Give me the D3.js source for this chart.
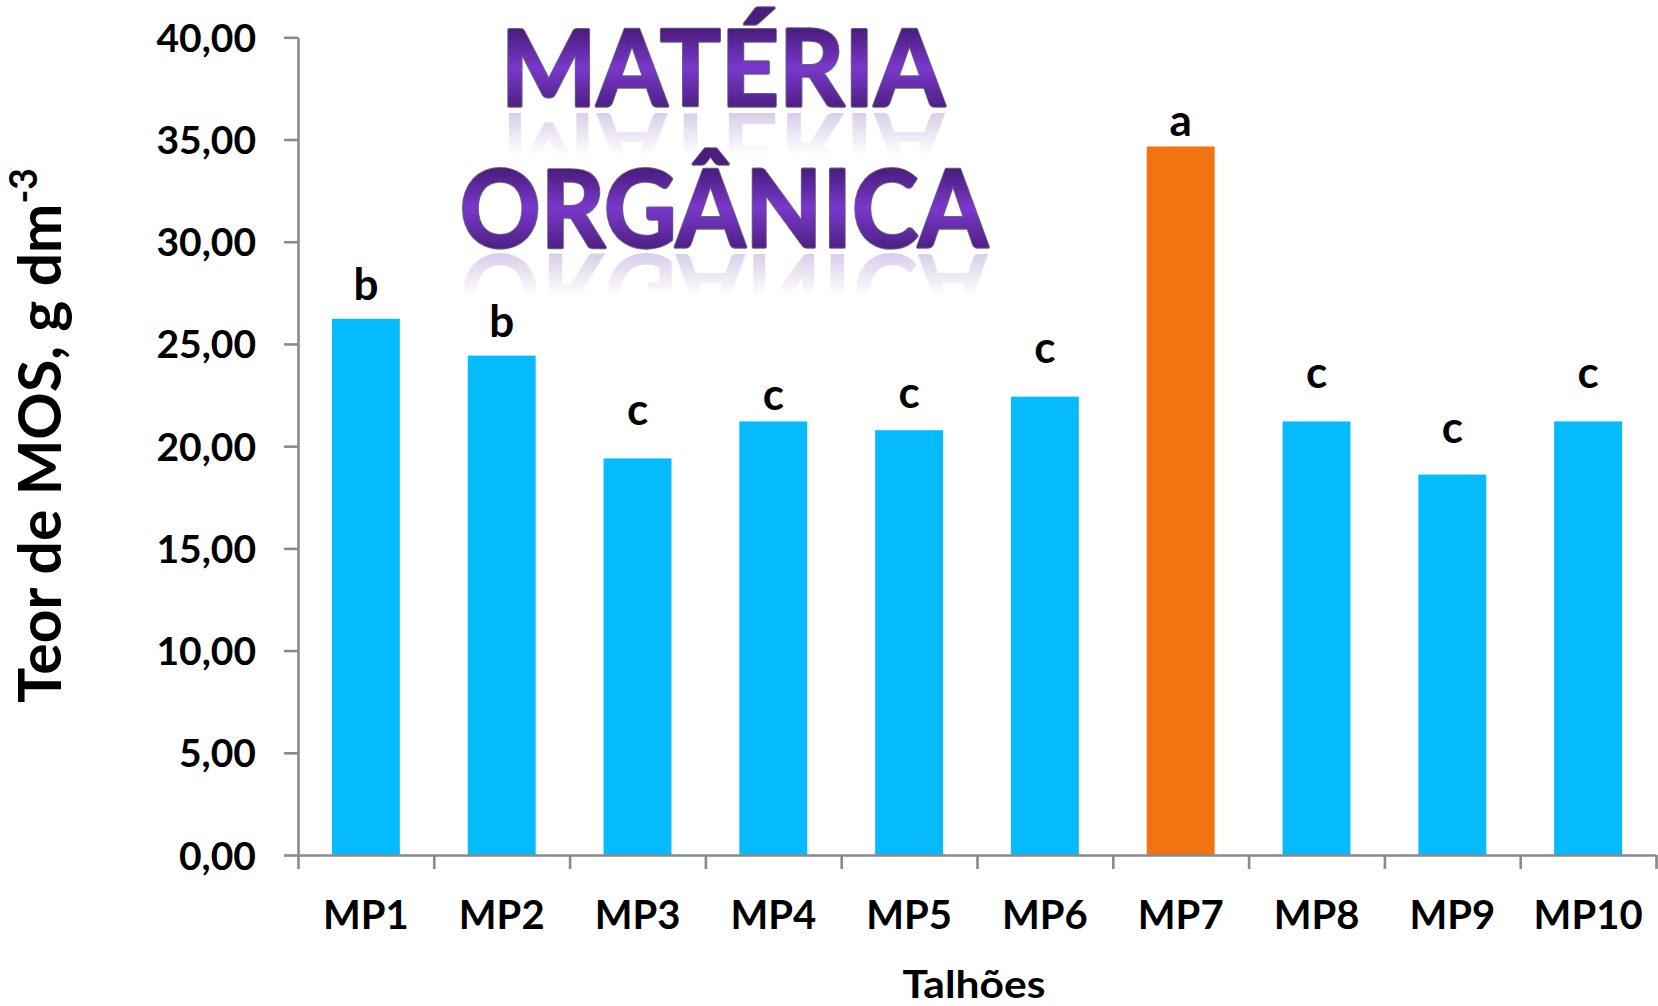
<!DOCTYPE html>
<html>
<head>
<meta charset="utf-8">
<script src="https://cdn.jsdelivr.net/npm/d3@7"></script>
<style>
  html, body { margin: 0; padding: 0; background: #ffffff; }
  svg { display: block; }
  text { font-family: Lato, "Open Sans", "DejaVu Sans", sans-serif; font-weight: 700; }
</style>
</head>
<body>
<svg id="chart" width="1658" height="1006"></svg>
<script>
// Organic matter content per plot (Teor de MOS, g dm-3)
const categories = ["MP1", "MP2", "MP3", "MP4", "MP5", "MP6", "MP7", "MP8", "MP9", "MP10"];
const values = [26.23, 24.43, 19.40, 21.21, 20.78, 22.42, 34.66, 21.21, 18.61, 21.21];
// Mean-comparison letters above each bar
const letters = ["b", "b", "c", "c", "c", "c", "a", "c", "c", "c"];
const yTicks = [0, 5, 10, 15, 20, 25, 30, 35, 40];
const highlighted = ["MP7"];
const titleLines = ["MATÉRIA", "ORGÂNICA"];
const xTitle = "Talhões";
const yTitle = "Teor de MOS, g dm";
const yTitleSup = "-3";

// ---- layout (pixels) ----
const plot = { left: 298, right: 1656, top: 37.3, bottom: 855 };
const letterLift = [19, 19, 33, 11, 22, 34, 10, 33, 32, 33];
const colors = { bar: "#05BBFD", accent: "#F07510", axis: "#8a8a8a", text: "#000000" };

const svg = d3.select("#chart");

const x = d3.scaleBand()
  .domain(categories)
  .range([plot.left, plot.right])
  .paddingInner(0.5)
  .paddingOuter(0.25);

const y = d3.scaleLinear()
  .domain([0, 40])
  .range([plot.bottom, plot.top]);

// boundary scale for the category separators on the x axis
const edges = d3.scaleLinear().domain([0, categories.length]).range([plot.left, plot.right]);

const comma = d3.formatLocale({ decimal: ",", thousands: ".", grouping: [3], currency: ["R$", ""] });
const fmt = comma.format(".2f");

// ---- title with reflection ----
const defs = svg.append("defs");
const titleSpec = [
  { text: titleLines[0], cx: 722.8, base: 106, cap: 76, width: 444 },
  { text: titleLines[1], cx: 723.8, base: 246.7, cap: 77, width: 528 }
];
titleSpec.forEach((t, i) => {
  const g = defs.append("linearGradient").attr("id", "tg" + i)
    .attr("gradientUnits", "userSpaceOnUse")
    .attr("x1", 0).attr("x2", 0).attr("y1", t.base - t.cap).attr("y2", t.base);
  g.append("stop").attr("offset", "0%").attr("stop-color", "#4a1d7e");
  g.append("stop").attr("offset", "50%").attr("stop-color", "#7a38cc");
  g.append("stop").attr("offset", "100%").attr("stop-color", "#4f2186");

  const mg = defs.append("linearGradient").attr("id", "mg" + i)
    .attr("gradientUnits", "userSpaceOnUse")
    .attr("x1", 0).attr("x2", 0).attr("y1", t.base + 5).attr("y2", t.base + 50);
  mg.append("stop").attr("offset", "0%").attr("stop-color", "#fff").attr("stop-opacity", 0.26);
  mg.append("stop").attr("offset", "100%").attr("stop-color", "#fff").attr("stop-opacity", 0);
  defs.append("mask").attr("id", "mk" + i)
    .attr("maskUnits", "userSpaceOnUse")
    .attr("x", 0).attr("y", 0).attr("width", 1658).attr("height", 1006)
    .append("rect").attr("x", 0).attr("y", t.base).attr("width", 1658).attr("height", 50)
    .attr("fill", "url(#mg" + i + ")");
});

const titleG = svg.append("g").attr("class", "title");
titleSpec.forEach((t, i) => {
  const fontSize = t.cap / 0.72;
  const word = sel => sel
    .attr("x", t.cx).attr("y", t.base)
    .attr("text-anchor", "middle")
    .attr("font-size", fontSize)
    .attr("font-weight", 900)
    .attr("textLength", t.width).attr("lengthAdjust", "spacingAndGlyphs")
    .text(t.text);
  // mirrored copy fading downward
  titleG.append("g").attr("mask", "url(#mk" + i + ")")
    .append("text")
    .attr("transform", `translate(0,${2 * (t.base + 3.5)}) scale(1,-1)`)
    .call(word)
    .attr("fill", "#6a3aa8");
  // thin grey outline, then gradient body with a matching stroke to thicken it
  titleG.append("text").call(word)
    .attr("fill", "none")
    .attr("stroke", "#6e6a78").attr("stroke-width", 3.4).attr("stroke-linejoin", "round");
  titleG.append("text").call(word)
    .attr("fill", "url(#tg" + i + ")")
    .attr("stroke", "url(#tg" + i + ")").attr("stroke-width", 1.6).attr("stroke-linejoin", "round");
});

// ---- bars ----
svg.append("g").selectAll("rect")
  .data(categories)
  .join("rect")
  .attr("x", d => x(d))
  .attr("width", x.bandwidth())
  .attr("y", (d, i) => y(values[i]))
  .attr("height", (d, i) => y(0) - y(values[i]))
  .attr("fill", d => highlighted.includes(d) ? colors.accent : colors.bar);

// ---- letters above bars ----
svg.append("g").selectAll("text")
  .data(categories)
  .join("text")
  .attr("x", d => x(d) + x.bandwidth() / 2)
  .attr("y", (d, i) => y(values[i]) - letterLift[i])
  .attr("text-anchor", "middle")
  .attr("font-size", 44)
  .attr("fill", colors.text)
  .text((d, i) => letters[i]);

// ---- y axis ----
const yAxis = svg.append("g")
  .attr("transform", `translate(${plot.left},0)`)
  .call(d3.axisLeft(y).tickValues(yTicks).tickFormat(fmt).tickSize(14).tickSizeOuter(0).tickPadding(28));
yAxis.selectAll("path.domain").attr("stroke", colors.axis).attr("stroke-width", 2.6);
yAxis.selectAll(".tick line").attr("stroke", colors.axis).attr("stroke-width", 2.6);
yAxis.selectAll(".tick text")
  .attr("font-size", 39).attr("font-family", null).attr("fill", colors.text).attr("dy", "0.36em");

// ---- x axis: separators at category edges ----
const xEdges = svg.append("g")
  .attr("transform", `translate(0,${plot.bottom})`)
  .call(d3.axisBottom(edges).tickValues(d3.range(categories.length + 1)).tickFormat("").tickSize(14).tickSizeOuter(0));
xEdges.selectAll("path.domain").attr("stroke", colors.axis).attr("stroke-width", 2.6);
xEdges.selectAll(".tick line").attr("stroke", colors.axis).attr("stroke-width", 2.6);

// ---- x axis: category labels ----
const xLabels = svg.append("g")
  .attr("transform", `translate(0,${plot.bottom})`)
  .call(d3.axisBottom(x).tickSize(0).tickSizeOuter(0));
xLabels.select("path.domain").remove();
xLabels.selectAll(".tick text")
  .attr("font-size", 40).attr("font-family", null).attr("fill", colors.text)
  .attr("y", 74).attr("dy", 0);

// ---- axis titles ----
svg.append("text")
  .attr("x", 974).attr("y", 998)
  .attr("text-anchor", "middle")
  .attr("font-size", 38)
  .attr("textLength", 143).attr("lengthAdjust", "spacingAndGlyphs")
  .attr("fill", colors.text)
  .text(xTitle);

const yT = svg.append("text")
  .attr("font-size", 60)
  .attr("fill", colors.text);
yT.append("tspan").text(yTitle);
yT.append("tspan").attr("font-size", 38).attr("dy", -24).text(yTitleSup);
// fit the rotated title to its span along the axis
const yTitleSpan = 535, yTitleMid = 435.5, yTitleBase = 61;
const bb = yT.node().getBBox();
const k = yTitleSpan / bb.width;
yT.attr("transform",
  `translate(${yTitleBase},${yTitleMid}) rotate(-90) scale(${k},1) translate(${-bb.x - bb.width / 2},0)`);
</script>
</body>
</html>
